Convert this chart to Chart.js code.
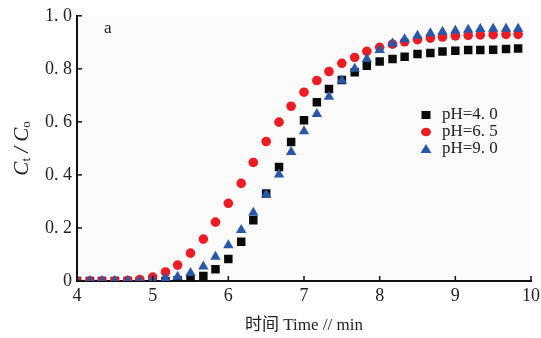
<!DOCTYPE html>
<html>
<head>
<meta charset="utf-8">
<script src="https://cdn.jsdelivr.net/npm/chart.js@4.4.1/dist/chart.umd.min.js"></script>
<style>
  html, body { margin: 0; padding: 0; background: #ffffff; }
  #wrap { width: 541px; height: 338px; }
</style>
</head>
<body>
<div id="wrap"><canvas id="mycanvas" width="541" height="338"></canvas></div>
<script>
// time, min (one sample every 10 s)
var times = [4.00, 4.17, 4.33, 4.50, 4.67, 4.83, 5.00, 5.17, 5.33, 5.50, 5.67, 5.83,
             6.00, 6.17, 6.33, 6.50, 6.67, 6.83, 7.00, 7.17, 7.33, 7.50, 7.67, 7.83,
             8.00, 8.17, 8.33, 8.50, 8.67, 8.83, 9.00, 9.17, 9.33, 9.50, 9.67, 9.83];

// Ct/C0
var ph40 = [0, 0, 0, 0, 0, 0, 0, 0, 0.003, 0.010, 0.019, 0.044,
            0.083, 0.148, 0.229, 0.330, 0.430, 0.524, 0.606, 0.674, 0.724, 0.758, 0.787, 0.812,
            0.828, 0.837, 0.846, 0.856, 0.860, 0.865, 0.868, 0.871, 0.871, 0.872, 0.875, 0.877];
var ph65 = [0, 0, 0, 0, 0.002, 0.005, 0.015, 0.034, 0.060, 0.105, 0.158, 0.222,
            0.293, 0.368, 0.447, 0.526, 0.599, 0.659, 0.712, 0.756, 0.790, 0.821, 0.843, 0.866,
            0.881, 0.893, 0.902, 0.910, 0.916, 0.920, 0.924, 0.926, 0.928, 0.929, 0.930, 0.930];
var ph90 = [0, 0, 0, 0, 0, 0, 0.003, 0.010, 0.016, 0.030, 0.055, 0.091,
            0.135, 0.192, 0.257, 0.326, 0.402, 0.486, 0.565, 0.630, 0.695, 0.756, 0.800, 0.837,
            0.871, 0.896, 0.912, 0.925, 0.934, 0.940, 0.944, 0.947, 0.950, 0.951, 0.951, 0.951];

var seriesLabels = ['pH=4. 0', 'pH=6. 5', 'pH=9. 0'];
var seriesColors = ['#0a0a0a', '#ec1c24', '#2b57a8'];
var seriesStyles = ['rect', 'circle', 'triangle'];

var xTitle = '时间 Time // min';
var panelLabel = 'a';

function toPoints(arr) {
  return arr.map(function (v, i) { return { x: times[i], y: v }; });
}

var serif = "'Liberation Serif', 'Noto Sans CJK SC', serif";

// white page, faint grey plot area
var bgPlugin = {
  id: 'bg',
  beforeDraw: function (chart) {
    var ctx = chart.ctx, a = chart.chartArea;
    ctx.save();
    ctx.fillStyle = '#ffffff';
    ctx.fillRect(0, 0, chart.width, chart.height);
    ctx.fillStyle = '#fafafa';
    ctx.fillRect(a.left, a.top, a.right - a.left, a.bottom - a.top);
    ctx.restore();
  }
};

// inward tick marks, legend, panel letter and y title
var extrasPlugin = {
  id: 'extras',
  afterDraw: function (chart) {
    var ctx = chart.ctx, a = chart.chartArea;
    var xs = chart.scales.x, ys = chart.scales.y;
    ctx.save();
    ctx.strokeStyle = '#111';
    ctx.lineWidth = 1.5;
    xs.ticks.forEach(function (t) {
      var px = xs.getPixelForValue(t.value);
      ctx.beginPath(); ctx.moveTo(px, a.bottom); ctx.lineTo(px, a.bottom - 5); ctx.stroke();
    });
    ys.ticks.forEach(function (t) {
      var py = ys.getPixelForValue(t.value);
      ctx.beginPath(); ctx.moveTo(a.left, py); ctx.lineTo(a.left + 5, py); ctx.stroke();
    });

    // panel letter
    ctx.fillStyle = '#222';
    ctx.font = "17px " + serif;
    ctx.textBaseline = 'middle';
    ctx.textAlign = 'left';
    ctx.fillText(panelLabel, a.left + 27, a.top + 13);

    // legend
    var lx = 426, ly = 115;
    for (var i = 0; i < seriesLabels.length; i++) {
      var cy = ly + i * 17;
      ctx.fillStyle = seriesColors[i];
      if (seriesStyles[i] === 'rect') {
        ctx.fillRect(lx - 4.5, cy - 4, 9, 8);
      } else if (seriesStyles[i] === 'circle') {
        ctx.beginPath(); ctx.ellipse(lx, cy, 5, 4.2, 0, 0, Math.PI * 2); ctx.fill();
      } else {
        ctx.beginPath(); ctx.moveTo(lx, cy - 5); ctx.lineTo(lx + 5.5, cy + 4); ctx.lineTo(lx - 5.5, cy + 4); ctx.closePath(); ctx.fill();
      }
      ctx.fillStyle = '#222';
      ctx.font = "17px " + serif;
      ctx.fillText(seriesLabels[i], lx + 16, cy);
    }

    // y title: Ct / Co
    ctx.translate(22, (a.top + a.bottom) / 2);
    ctx.rotate(-Math.PI / 2);
    ctx.fillStyle = '#222';
    var parts = [
      { t: 'C', f: "italic 21px " + serif, dy: 0 },
      { t: 't', f: "13px " + serif, dy: 5 },
      { t: ' / ', f: "italic 21px " + serif, dy: 0 },
      { t: 'C', f: "italic 21px " + serif, dy: 0 },
      { t: 'o', f: "13px " + serif, dy: 5 }
    ];
    var total = 0;
    parts.forEach(function (p) { ctx.font = p.f; total += ctx.measureText(p.t).width; });
    var cx = -total / 2;
    ctx.textAlign = 'left';
    parts.forEach(function (p) {
      ctx.font = p.f;
      ctx.fillText(p.t, cx, p.dy);
      cx += ctx.measureText(p.t).width;
    });
    ctx.restore();
  }
};

var ctx = document.getElementById('mycanvas').getContext('2d');

var scatter = new Chart(ctx, {
  type: 'scatter',
  data: {
    datasets: [
      {
        label: seriesLabels[0],
        data: toPoints(ph40),
        pointStyle: seriesStyles[0],
        pointRadius: 6,
        backgroundColor: seriesColors[0],
        borderWidth: 0,
        clip: 0,
        order: 3
      },
      {
        label: seriesLabels[1],
        data: toPoints(ph65),
        pointStyle: seriesStyles[1],
        pointRadius: 4.8,
        backgroundColor: seriesColors[1],
        borderWidth: 0,
        clip: 0,
        order: 2
      },
      {
        label: seriesLabels[2],
        data: toPoints(ph90),
        pointStyle: seriesStyles[2],
        pointRadius: 6,
        backgroundColor: seriesColors[2],
        borderWidth: 0,
        clip: 0,
        order: 1
      }
    ]
  },
  options: {
    responsive: false,
    animation: false,
    layout: { padding: { top: 15, right: 1, left: 0, bottom: 0 } },
    plugins: {
      legend: { display: false },
      tooltip: { enabled: false }
    },
    scales: {
      x: {
        type: 'linear',
        min: 4,
        max: 10,
        afterFit: function (s) { s.height = 57; s.paddingRight = 10; },
        border: { display: true, color: '#111', width: 2 },
        grid: { display: true, drawOnChartArea: false, drawTicks: false },
        ticks: {
          stepSize: 1,
          padding: 4,
          color: '#222',
          font: { family: serif, size: 18 }
        },
        title: {
          display: true,
          text: xTitle,
          color: '#222',
          font: { family: serif, size: 17 },
          padding: { top: 0, bottom: 2 }
        }
      },
      y: {
        min: 0,
        max: 1,
        afterFit: function (s) { s.width = 77; },
        border: { display: true, color: '#111', width: 2 },
        grid: { display: true, drawOnChartArea: false, drawTicks: false },
        ticks: {
          stepSize: 0.2,
          padding: 5,
          color: '#222',
          font: { family: serif, size: 18 },
          callback: function (v) {
            if (v === 0) return '0';
            return v.toFixed(1).replace('.', '. ');
          }
        }
      }
    }
  },
  plugins: [bgPlugin, extrasPlugin]
});
</script>
</body>
</html>
